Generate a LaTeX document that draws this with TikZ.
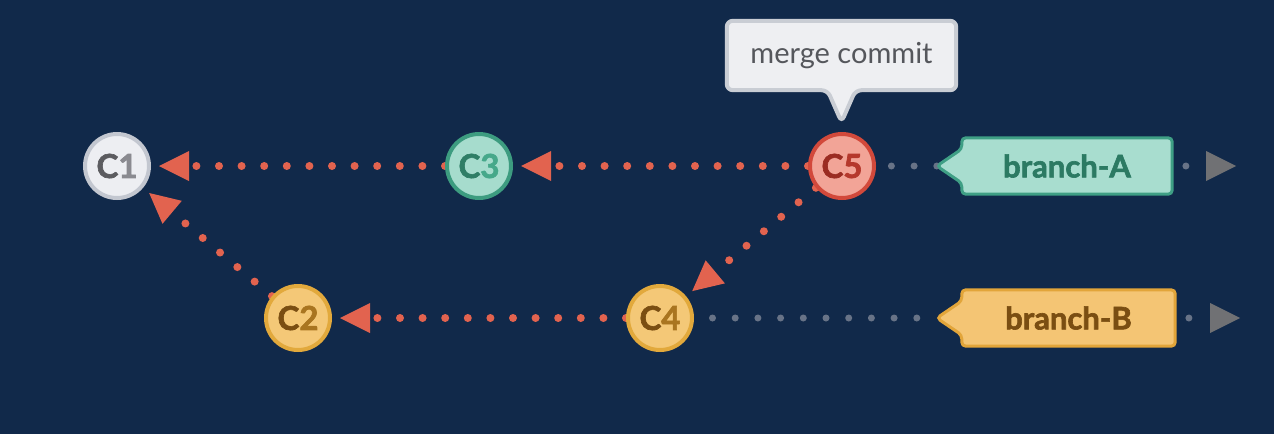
\documentclass[tikz,border=0pt]{standalone}
\usepackage{fontspec}
\setmainfont{Lato}[BoldFeatures={FakeBold=2}]
\usetikzlibrary{arrows.meta,calc}
\definecolor{bgcol}{HTML}{11294A}
\definecolor{reddot}{HTML}{E2634F}
\definecolor{greydot}{HTML}{687387}
\definecolor{greytri}{HTML}{707174}
\definecolor{cOneFill}{HTML}{EDEEF2}
\definecolor{cOneLine}{HTML}{C3C7D0}
\definecolor{cOneA}{HTML}{5C5C60}
\definecolor{cOneB}{HTML}{8A8A90}
\definecolor{cGreenFill}{HTML}{A6DCCD}
\definecolor{cGreenLine}{HTML}{3D9C80}
\definecolor{cGreenA}{HTML}{2F7E66}
\definecolor{cGreenB}{HTML}{46A88A}
\definecolor{cYelFill}{HTML}{F4C877}
\definecolor{cYelLine}{HTML}{E2A93C}
\definecolor{cYelA}{HTML}{7A4E12}
\definecolor{cYelB}{HTML}{A97520}
\definecolor{cRedFill}{HTML}{F2A497}
\definecolor{cRedLine}{HTML}{D2493B}
\definecolor{cRedA}{HTML}{9B2C22}
\definecolor{cRedB}{HTML}{B5382C}
\definecolor{tagAFill}{HTML}{A8DDCF}
\definecolor{tagALine}{HTML}{3F9F85}
\definecolor{tagAText}{HTML}{2C7A63}
\definecolor{tagBFill}{HTML}{F4C574}
\definecolor{tagBLine}{HTML}{E2A53A}
\definecolor{tagBText}{HTML}{7A4E12}
\definecolor{mcFill}{HTML}{EEEFF2}
\definecolor{mcLine}{HTML}{C9CDD4}
\definecolor{mcText}{HTML}{55575C}
\pgfdeclarelayer{bgl}
\pgfdeclarelayer{edges}
\pgfdeclarelayer{tags}
\pgfsetlayers{bgl,edges,tags,main}
\begin{document}
\begin{tikzpicture}[x=1pt,y=-1pt,
  commit/.style={circle, minimum size=64pt, line width=4pt, inner sep=0pt,
    font=\bfseries\fontsize{33}{33}\selectfont},
  tagtext/.style={minimum width=210pt, minimum height=56pt, inner sep=0pt,
    font=\bfseries\fontsize{31}{31}\selectfont},
  tagshape/.style={line width=3pt, rounded corners=4pt},
  reddots/.style={draw=reddot, line width=8pt, line cap=round,
    dash pattern=on 0pt off 22.6pt, shorten >=8pt,
    -{Triangle[length=30pt,width=30pt,line width=0pt,color=reddot]}},
  greydots/.style={draw=greydot, line width=7pt, line cap=round,
    dash pattern=on 0pt off 22.7pt},
  greytip/.style={-{Triangle[length=30pt,width=30pt,line width=0pt,color=greytri]}}
]
\begin{pgfonlayer}{bgl}
\fill[bgcol] (0,0) rectangle (1274,434);
\end{pgfonlayer}
\useasboundingbox (0,0) rectangle (1274,434);

% commits
\node[commit, fill=cOneFill, draw=cOneLine] (c1) at (117,166) {\textcolor{cOneA}{C}\textcolor{cOneB}{1}};
\node[commit, fill=cGreenFill, draw=cGreenLine] (c3) at (479,166) {\textcolor{cGreenA}{C}\textcolor{cGreenB}{3}};
\node[commit, fill=cRedFill, draw=cRedLine] (c5) at (842,166) {\textcolor{cRedA}{C}\textcolor{cRedB}{5}};
\node[commit, fill=cYelFill, draw=cYelLine] (c2) at (298,318) {\textcolor{cYelA}{C}\textcolor{cYelB}{2}};
\node[commit, fill=cYelFill, draw=cYelLine] (c4) at (660,318) {\textcolor{cYelA}{C}\textcolor{cYelB}{4}};

% branch tags
\node[tagtext, text=tagAText] (bA) at (1067,166) {branch-A};
\node[tagtext, text=tagBText, minimum width=213pt] (bB) at (1068.5,318) {branch-B};
\coordinate (tipA) at ($(bA.west)+(-25,0)$);
\coordinate (tipB) at ($(bB.west)+(-25,0)$);
\coordinate (endA) at (1236,166);
\coordinate (endB) at (1240,318);

% merge commit callout
\node[minimum width=229pt, minimum height=69pt, inner sep=0pt, text=mcText,
  font=\fontsize{29}{29}\selectfont] (mc) at (841.5,55.5) {merge commit};

\begin{pgfonlayer}{tags}
\draw[tagshape, fill=tagAFill, draw=tagALine] (bA.north west) -- (bA.north east) -- (bA.south east) -- (bA.south west)
  -- ($(bA.west)+(0,17)$) -- (tipA) -- ($(bA.west)+(0,-17)$) -- cycle;
\draw[tagshape, fill=tagBFill, draw=tagBLine] (bB.north west) -- (bB.north east) -- (bB.south east) -- (bB.south west)
  -- ($(bB.west)+(0,17)$) -- (tipB) -- ($(bB.west)+(0,-17)$) -- cycle;
\draw[line width=4pt, rounded corners=6pt, fill=mcFill, draw=mcLine]
  (mc.north west) -- (mc.north east) -- (mc.south east) -- ($(mc.south)+(14,0)$)
  -- ($(mc.south)+(0,32)$) -- ($(mc.south)+(-14,0)$) -- (mc.south west) -- cycle;
\end{pgfonlayer}

\begin{pgfonlayer}{edges}
\draw[reddots] (c3) -- (c1);
\draw[reddots] (c5) -- (c3);
\draw[reddots] (c2) -- (c1);
\draw[reddots] (c4) -- (c2);
\draw[reddots] (c5) -- (c4);
\draw[greydots] (tipA) -- (c5);
\draw[greydots, shorten <=20pt, shorten >=18pt] (tipB) -- (c4);
\draw[greydots, greytip, dash phase=9pt] (bA) -- (endA);
\draw[greydots, greytip, dash phase=9pt] (bB) -- (endB);
\end{pgfonlayer}
\end{tikzpicture}
\end{document}
